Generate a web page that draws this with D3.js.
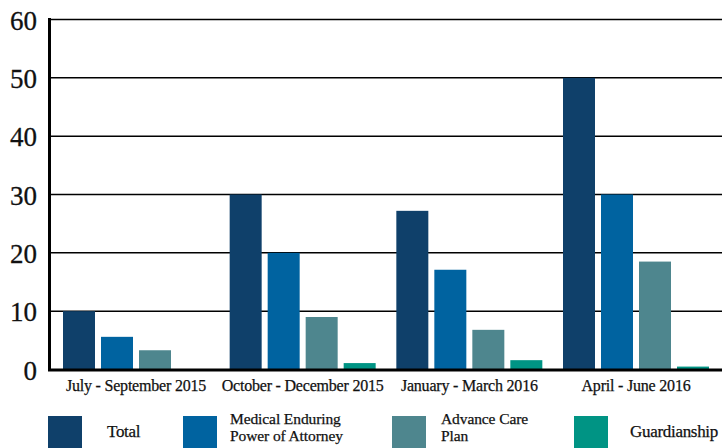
<!DOCTYPE html>
<html><head><meta charset="utf-8">
<script src="https://cdn.jsdelivr.net/npm/d3@7"></script>
<style>html,body{margin:0;padding:0;background:#fff;}svg{display:block;}</style>
</head><body>
<script>
const categories = ["July - September 2015","October - December 2015","January - March 2016","April - June 2016"];
const seriesNames = ["Total","Medical Enduring Power of Attorney","Advance Care Plan","Guardianship"];
const legendLines = [["Total"],["Medical Enduring","Power of Attorney"],["Advance Care","Plan"],["Guardianship"]];
const totalValues = [10, 30, 27.2, 50];
const mepaValues = [5.6, 20, 17.1, 30];
const acpValues = [3.3, 9, 6.8, 18.5];
const guardValues = [0, 1.1, 1.6, 0.5];
const yTicks = [0,10,20,30,40,50,60];
const colors = ["#0f406a","#0063a0","#4e868e","#009484"];

const series = [totalValues, mepaValues, acpValues, guardValues];
const W = 722, H = 448;
const svg = d3.select("body").append("svg").attr("width", W).attr("height", H);
const font = "'Liberation Serif', serif";

const y = d3.scaleLinear().domain([0,60]).range([369.5, 19.5]);
const groupW = 146;
const groupStep = (709 - 63 - groupW) / 3;
const gx = d3.scalePoint().domain(categories).range([63, 63 + 3*groupStep]);
const x1 = d3.scaleBand().domain(seriesNames).range([0, 152]).padding(0);
const barW = 32;

// gridlines
svg.append("g").selectAll("line").data(yTicks.filter(d=>d>0)).join("line")
  .attr("x1", 49).attr("x2", W).attr("y1", d=>y(d)).attr("y2", d=>y(d))
  .attr("stroke", "#000").attr("stroke-width", 1.5);

// bars
const groups = svg.append("g").selectAll("g").data(categories).join("g")
  .attr("transform", c => `translate(${gx(c)},0)`);
groups.selectAll("rect").data((c,i) => series.map((s,k) => ({k, v: s[i]}))).join("rect")
  .attr("x", d => x1(seriesNames[d.k]))
  .attr("width", barW)
  .attr("y", d => y(d.v))
  .attr("height", d => Math.max(0, y(0) - y(d.v)))
  .attr("fill", d => colors[d.k]);

// y axis line and baseline
svg.append("line").attr("x1", 49.5).attr("x2", 49.5).attr("y1", 18).attr("y2", 371)
  .attr("stroke", "#000").attr("stroke-width", 3);
svg.append("line").attr("x1", 48).attr("x2", W).attr("y1", 370).attr("y2", 370)
  .attr("stroke", "#000").attr("stroke-width", 3);

// y tick labels
svg.append("g").selectAll("text").data(yTicks).join("text")
  .attr("x", 37).attr("y", d => y(d) + 10)
  .attr("text-anchor", "end").attr("font-family", font).attr("font-size", 27).attr("fill", "#111")
  .attr("stroke", "#111").attr("stroke-width", 0.3)
  .text(d => d);

// category labels
svg.append("g").selectAll("text").data(categories).join("text")
  .attr("x", c => gx(c) + groupW/2).attr("y", 391)
  .attr("text-anchor", "middle").attr("font-family", font).attr("font-size", 16).attr("fill", "#111")
  .attr("stroke", "#111").attr("stroke-width", 0.25)
  .attr("letter-spacing", -0.2)
  .text(c => c);

// legend
const legX = [48, 183, 392, 574];
const legTX = [107, 230, 441, 630];
const leg = svg.append("g").selectAll("g").data(seriesNames).join("g");
leg.append("rect").attr("x", (d,i) => legX[i]).attr("y", 416).attr("width", 34).attr("height", 34)
  .attr("fill", (d,i) => colors[i]);
leg.each(function(d,i){
  const lines = legendLines[i];
  const g = d3.select(this);
  const y0 = lines.length === 1 ? 437 : 424;
  lines.forEach((ln, j) => g.append("text")
    .attr("font-family", font).attr("font-size", lines.length === 1 ? 17 : 15.5).attr("fill", "#111")
    .attr("stroke", "#111").attr("stroke-width", 0.25)
    .attr("letter-spacing", lines.length === 1 ? -0.3 : -0.1)
    .attr("x", legTX[i]).attr("y", y0 + j*17).text(ln));
});
</script>
</body></html>
